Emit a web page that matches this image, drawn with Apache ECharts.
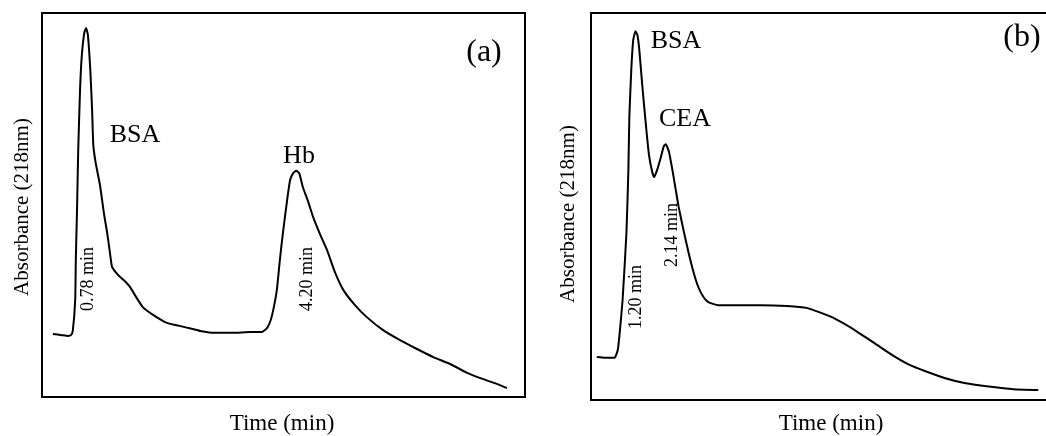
<!DOCTYPE html>
<html>
<head>
<meta charset="utf-8">
<script src="https://cdn.jsdelivr.net/npm/echarts@6/dist/echarts.min.js"></script>
<style>
  html, body { margin: 0; padding: 0; background: #fff; }
  #main { width: 1046px; height: 436px; }
</style>
</head>
<body>
<div id="main"></div>
<script>
// panel (a): BSA + Hb
var timeA = [0.18, 0.33, 0.43, 0.48, 0.51, 0.55, 0.56, 0.58, 0.60, 0.63, 0.66, 0.70, 0.73, 0.76, 0.80, 0.83,
  0.85, 0.89, 0.96, 1.03, 1.08, 1.13, 1.16, 1.23, 1.29, 1.39, 1.46, 1.56, 1.67, 1.82, 2.07, 2.37, 2.62,
  2.87, 3.16, 3.45, 3.64, 3.73, 3.79, 3.84, 3.89, 3.94, 3.99, 4.06, 4.11, 4.16, 4.21, 4.26, 4.32, 4.41,
  4.49, 4.61, 4.72, 4.85, 4.99, 5.18, 5.38, 5.65, 5.93, 6.21, 6.48, 6.76, 7.04, 7.26, 7.50, 7.70];
var absA = [16.4, 16.1, 15.9, 16.1, 17.2, 25.3, 35.7, 48.7, 64.3, 79.9, 89.1, 94.8, 96.1, 94.3, 85.2, 74.7,
  65.6, 60.9, 55.2, 47.4, 42.7, 37.0, 33.9, 32.3, 31.3, 29.9, 28.6, 26.0, 23.4, 21.6, 19.3, 18.2, 17.2,
  16.7, 16.7, 16.9, 16.9, 18.0, 20.1, 23.4, 27.9, 35.7, 42.7, 51.3, 56.5, 58.3, 58.9, 58.3, 54.7, 50.8,
  46.9, 42.2, 38.3, 32.6, 27.9, 24.0, 20.8, 17.4, 14.8, 12.5, 10.4, 8.6, 6.3, 4.9, 3.6, 2.3];

// panel (b): BSA + CEA
var timeB = [0.18, 0.43, 0.73, 0.83, 0.89, 0.98, 1.10, 1.16, 1.19, 1.25, 1.31, 1.38, 1.44, 1.50, 1.59, 1.71,
  1.80, 1.90, 1.96, 2.05, 2.17, 2.26, 2.32, 2.42, 2.51, 2.63, 2.72, 2.87, 3.03, 3.18, 3.33, 3.49, 3.64,
  3.94, 4.56, 5.26, 6.08, 6.69, 7.42, 7.92, 8.32, 8.83, 9.35, 9.90, 10.36, 10.97, 11.59, 12.41, 13.11, 13.88];
var absB = [11.1, 10.9, 10.9, 12.9, 17.3, 25.8, 43.2, 59.4, 73.1, 85.3, 93.0, 95.3, 94.3, 90.4, 81.4, 70.5,
  63.3, 58.9, 57.6, 59.4, 62.8, 65.6, 66.1, 64.1, 60.2, 54.3, 49.9, 43.9, 38.0, 33.1, 29.2, 26.6, 25.3,
  24.5, 24.5, 24.5, 24.3, 23.8, 21.6, 19.4, 17.3, 14.5, 11.6, 9.0, 7.5, 5.7, 4.4, 3.4, 2.8, 2.6];

var peakNamesA = ['BSA', 'Hb'];
var peakTimesA = ['0.78 min', '4.20 min'];
var peakNamesB = ['BSA', 'CEA'];
var peakTimesB = ['1.20 min', '2.14 min'];

var myChart = echarts.init(document.getElementById('main'));
var serif = '"Liberation Serif", "DejaVu Serif", serif';

function pairs(xs, ys) {
  return xs.map(function (x, i) { return [x, ys[i]]; });
}

function txt(x, y, s, size, rot) {
  return {
    type: 'text', x: x, y: y, rotation: rot || 0,
    style: { text: s, fill: '#000', font: size + 'px ' + serif, align: 'center', verticalAlign: 'middle' }
  };
}

// axis with no ticks/labels, optional frame line
function ax(type, grid, min, max, pos, line) {
  return {
    type: 'value', gridIndex: grid, min: min, max: max, position: pos,
    axisLine: { show: line, onZero: false, lineStyle: { color: '#000', width: 2 } },
    axisTick: { show: false }, axisLabel: { show: false }, splitLine: { show: false }
  };
}

option = {
  animation: false,
  grid: [
    { left: 42, top: 13, width: 483, height: 384, show: true, borderColor: '#000', borderWidth: 2 },
    // right edge of panel (b) is cut off by the picture, so only left/top/bottom lines
    { left: 591, top: 13, width: 462, height: 387, show: false }
  ],
  xAxis: [
    ax('x', 0, 0, 8, 'bottom', false),
    ax('x', 1, 0, 14.12, 'bottom', true),
    ax('x', 1, 0, 14.12, 'top', true)
  ],
  yAxis: [
    ax('y', 0, 0, 100, 'left', false),
    ax('y', 1, 0, 100, 'left', true)
  ],
  series: [
    {
      type: 'line', xAxisIndex: 0, yAxisIndex: 0, showSymbol: false, smooth: 0.15,
      lineStyle: { color: '#000', width: 2 },
      data: pairs(timeA, absA)
    },
    {
      type: 'line', xAxisIndex: 1, yAxisIndex: 1, showSymbol: false, smooth: 0.15,
      lineStyle: { color: '#000', width: 2 },
      data: pairs(timeB, absB)
    }
  ],
  graphic: [
    // panel (a)
    txt(484, 53, '(a)', 32),
    txt(135, 135, peakNamesA[0], 26),
    txt(299, 156, peakNamesA[1], 26),
    txt(88, 279, peakTimesA[0], 18, Math.PI / 2),
    txt(307, 279, peakTimesA[1], 18, Math.PI / 2),
    txt(22, 207, 'Absorbance (218nm)', 21, Math.PI / 2),
    txt(282, 424, 'Time (min)', 23),
    // panel (b)
    txt(1022, 38, '(b)', 32),
    txt(676, 41, peakNamesB[0], 26),
    txt(685, 119, peakNamesB[1], 26),
    txt(636, 297, peakTimesB[0], 18, Math.PI / 2),
    txt(672, 235, peakTimesB[1], 18, Math.PI / 2),
    txt(568, 214, 'Absorbance (218nm)', 21, Math.PI / 2),
    txt(831, 424, 'Time (min)', 23)
  ]
};

myChart.setOption(option);
</script>
</body>
</html>
